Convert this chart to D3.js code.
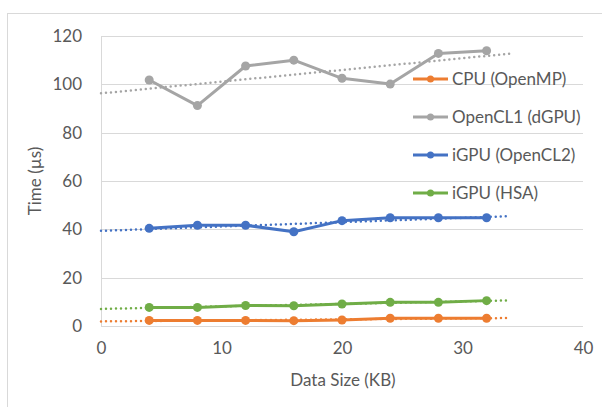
<!DOCTYPE html>
<html>
<head>
<meta charset="utf-8">
<script src="https://cdn.jsdelivr.net/npm/d3@7"></script>
<style>
  body { margin: 0; background: #fff; }
  svg { font-family: "Lato", "Liberation Sans", sans-serif; }
</style>
</head>
<body>
<div id="chart"></div>
<script>
// data sizes (KB)
const dataSizes = [4, 8, 12, 16, 20, 24, 28, 32];

// times (µs) per implementation
const cpuOpenMP = [2.3, 2.3, 2.3, 2.2, 2.5, 3.2, 3.2, 3.2];
const openCL1dGPU = [101.8, 91.2, 107.6, 110.0, 102.5, 100.1, 112.8, 113.9];
const iGPUOpenCL2 = [40.4, 41.7, 41.7, 39.0, 43.6, 44.8, 44.8, 44.8];
const iGPUHSA = [7.7, 7.7, 8.5, 8.4, 9.1, 9.8, 9.8, 10.5];

const seriesNames = ["CPU (OpenMP)", "OpenCL1 (dGPU)", "iGPU (OpenCL2)", "iGPU (HSA)"];
const seriesColors = ["#ED7D31", "#A5A5A5", "#4472C4", "#70AD47"];
const xTicks = [0, 10, 20, 30, 40];
const yTicks = [0, 20, 40, 60, 80, 100, 120];

const series = [cpuOpenMP, openCL1dGPU, iGPUOpenCL2, iGPUHSA].map((vals, i) => ({
  name: seriesNames[i],
  color: seriesColors[i],
  values: dataSizes.map((x, j) => ({ x: x, y: vals[j] }))
}));

const W = 602, H = 407;
const svg = d3.select("#chart").append("svg")
  .attr("width", W)
  .attr("height", H);

// chart frame
svg.append("rect")
  .attr("x", 7.5).attr("y", 13.5)
  .attr("width", 620).attr("height", 420)
  .attr("fill", "none")
  .attr("stroke", "#d9d9d9");

const x = d3.scaleLinear().domain([0, 40]).range([101, 583]);
const y = d3.scaleLinear().domain([0, 120]).range([326, 36]);

// gridlines
svg.append("g").selectAll("line")
  .data(yTicks)
  .enter().append("line")
  .attr("x1", x(0)).attr("x2", x(40))
  .attr("y1", d => Math.round(y(d)) + 0.5)
  .attr("y2", d => Math.round(y(d)) + 0.5)
  .attr("stroke", "#d9d9d9")
  .attr("stroke-width", 1);

// y axis line
svg.append("line")
  .attr("x1", x(0) + 0.5).attr("x2", x(0) + 0.5)
  .attr("y1", y(120)).attr("y2", y(0))
  .attr("stroke", "#d9d9d9");

// y tick labels
const yAxis = svg.append("g")
  .attr("transform", `translate(${x(0)},0)`)
  .call(d3.axisLeft(y).tickValues(yTicks).tickSize(0).tickPadding(19));
yAxis.select(".domain").remove();
yAxis.selectAll("text")
  .attr("fill", "#595959")
  .style("font-size", "17px")
  .style("font-family", "Lato, sans-serif");

// x tick labels
const xAxis = svg.append("g")
  .attr("transform", `translate(0,${y(0)})`)
  .call(d3.axisBottom(x).tickValues(xTicks).tickSize(0).tickPadding(16));
xAxis.select(".domain").remove();
xAxis.selectAll("text")
  .attr("fill", "#595959")
  .style("font-size", "17px")
  .style("font-family", "Lato, sans-serif");

// axis titles
svg.append("text")
  .attr("x", 343)
  .attr("y", 386)
  .attr("text-anchor", "middle")
  .attr("fill", "#595959")
  .attr("font-size", "17px")
  .text("Data Size (KB)");

svg.append("text")
  .attr("transform", `translate(41,${y(60)}) rotate(-90)`)
  .attr("text-anchor", "middle")
  .attr("fill", "#595959")
  .attr("font-size", "17px")
  .text("Time (µs)");

const line = d3.line().x(d => x(d.x)).y(d => y(d.y));

// linear trendlines (fit, forecast forward 2 units)
function trend(vals) {
  const mx = d3.mean(vals, d => d.x), my = d3.mean(vals, d => d.y);
  const b = d3.sum(vals, d => (d.x - mx) * (d.y - my)) / d3.sum(vals, d => (d.x - mx) ** 2);
  const a = my - b * mx;
  return [0, 34].map(t => ({ x: t, y: a + b * t }));
}

const drawOrder = [1, 2, 3, 0];
drawOrder.forEach(i => {
  const s = series[i];
  svg.append("path")
    .datum(s.values)
    .attr("d", line)
    .attr("fill", "none")
    .attr("stroke", s.color)
    .attr("stroke-width", 3)
    .attr("stroke-linejoin", "round");
  svg.append("g").selectAll("circle")
    .data(s.values)
    .enter().append("circle")
    .attr("cx", d => x(d.x))
    .attr("cy", d => y(d.y))
    .attr("r", 4.5)
    .attr("fill", s.color);
});

drawOrder.forEach(i => {
  const s = series[i];
  svg.append("path")
    .datum(trend(s.values))
    .attr("d", line)
    .attr("fill", "none")
    .attr("stroke", s.color)
    .attr("stroke-width", 2.5)
    .attr("stroke-linecap", "round")
    .attr("stroke-dasharray", "0 5");
});

// legend
const legend = svg.append("g")
  .selectAll("g")
  .data(series)
  .enter().append("g")
  .attr("transform", (d, i) => `translate(413,${79 + i * 38})`);

legend.append("rect")
  .attr("x", 0).attr("y", -1.5)
  .attr("width", 35).attr("height", 3)
  .attr("fill", d => d.color);
legend.append("circle")
  .attr("cx", 17.5).attr("cy", 0)
  .attr("r", 3.5)
  .attr("fill", d => d.color);
legend.append("text")
  .attr("x", 39)
  .attr("y", 6)
  .attr("fill", "#595959")
  .attr("font-size", "17px")
  .text(d => d.name);
</script>
</body>
</html>
